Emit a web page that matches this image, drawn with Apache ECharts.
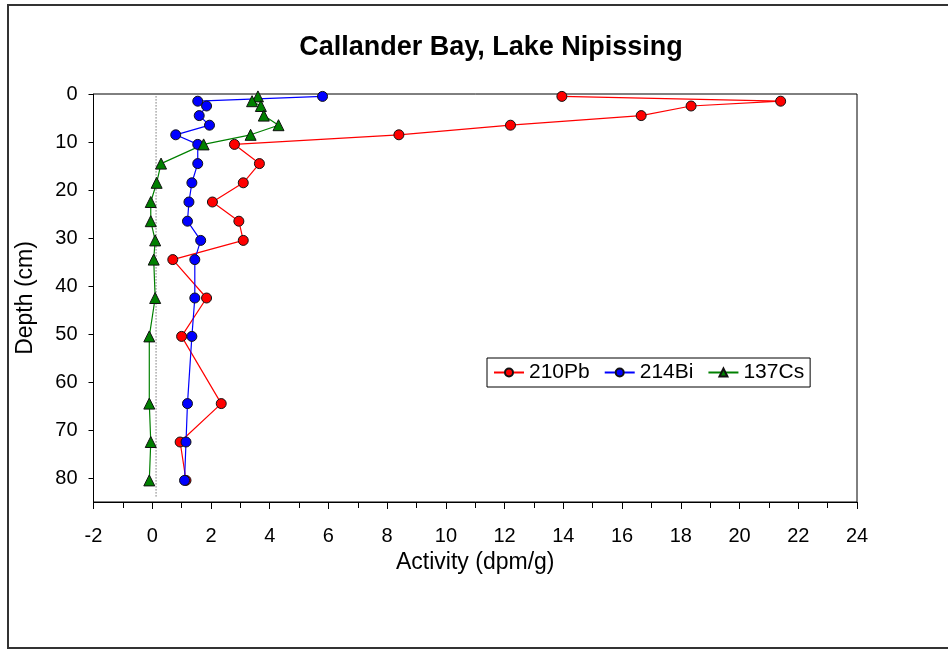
<!DOCTYPE html>
<html>
<head>
<meta charset="utf-8">
<script src="https://cdn.jsdelivr.net/npm/echarts@6/dist/echarts.min.js"></script>
<style>
  html, body { margin: 0; padding: 0; background: #fff; }
  #main { width: 948px; height: 650px; }
</style>
</head>
<body>
<div id="main"></div>
<script>
// depth of each sample (cm)
var depths = [0.5, 1.5, 2.5, 4.5, 6.5, 8.5, 10.5, 14.5, 18.5, 22.5, 26.5, 30.5, 34.5, 42.5, 50.5, 64.5, 72.5, 80.5];
// activities (dpm/g)
var pb210 = [13.95, 21.4, 18.35, 16.65, 12.2, 8.4, 2.8, 3.65, 3.1, 2.05, 2.95, 3.1, 0.7, 1.85, 1.0, 2.35, 0.95, 1.15];
var bi214 = [5.8, 1.55, 1.85, 1.6, 1.95, 0.8, 1.55, 1.55, 1.35, 1.25, 1.2, 1.65, 1.45, 1.45, 1.35, 1.2, 1.15, 1.1];
var cs137 = [3.6, 3.4, 3.7, 3.8, 4.3, 3.35, 1.75, 0.3, 0.15, -0.05, -0.05, 0.1, 0.05, 0.1, -0.1, -0.1, -0.05, -0.1];
// dotted reference line
var refX = [0.13, 0.13];
var refDepth = [0.5, 84];
var xTicks = [-2, 0, 2, 4, 6, 8, 10, 12, 14, 16, 18, 20, 22, 24];
var yTicks = [0, 10, 20, 30, 40, 50, 60, 70, 80];

function pairs(vals, ds) {
  var out = [];
  for (var i = 0; i < vals.length; i++) out.push([vals[i], ds[i]]);
  return out;
}

var font = 'Arial, "Liberation Sans", sans-serif';
var chart = echarts.init(document.getElementById('main'));

function seriesOf(name, vals, color, symbol, size) {
  return {
    name: name,
    type: 'line',
    data: pairs(vals, depths),
    symbol: symbol,
    symbolSize: size,
    showSymbol: true,
    lineStyle: { color: color, width: 1.2 },
    itemStyle: { color: color, borderColor: '#111', borderWidth: 1 },
    animation: false,
    z: 3
  };
}

chart.setOption({
  animation: false,
  title: {
    text: 'Callander Bay, Lake Nipissing',
    left: 486, top: 29, textAlign: 'center',
    textStyle: { fontFamily: font, fontSize: 27, fontWeight: 'bold', color: '#000' }
  },
  graphic: [{
    type: 'rect',
    shape: { x: 8, y: 5, width: 960, height: 643 },
    style: { fill: 'none', stroke: '#333', lineWidth: 2 },
    silent: true
  }],
  legend: {
    left: 487, top: 358,
    padding: [4, 6, 4, 6],
    itemGap: 14,
    itemWidth: 30,
    itemHeight: 10,
    borderColor: '#000',
    borderWidth: 1,
    textStyle: { fontFamily: font, fontSize: 21, color: '#000' },
    data: ['210Pb', '214Bi', '137Cs']
  },
  grid: { left: 93.5, right: 91, top: 94, bottom: 148, show: true, borderColor: '#000', borderWidth: 1 },
  xAxis: {
    type: 'value',
    min: xTicks[0], max: xTicks[xTicks.length - 1], interval: 2,
    name: 'Activity (dpm/g)', nameLocation: 'middle', nameGap: 47,
    nameTextStyle: { fontFamily: font, fontSize: 23, color: '#000' },
    axisLine: { onZero: false, lineStyle: { color: '#000', width: 1 } },
    axisTick: { show: true, inside: false, length: 7, lineStyle: { color: '#000' } },
    minorTick: { show: true, splitNumber: 2, length: 6, lineStyle: { color: '#000' } },
    axisLabel: { margin: 24, fontFamily: font, fontSize: 20, color: '#000' },
    splitLine: { show: false }
  },
  yAxis: {
    type: 'value',
    inverse: true,
    min: 0, max: 85, interval: 10,
    name: 'Depth (cm)', nameLocation: 'middle', nameGap: 56, nameRotate: 90,
    nameTextStyle: { fontFamily: font, fontSize: 23, color: '#000' },
    axisLine: { onZero: false, lineStyle: { color: '#000', width: 1 } },
    axisTick: { show: true, inside: false, length: 5, lineStyle: { color: '#000' }, customValues: yTicks },
    axisLabel: { margin: 16, fontFamily: font, fontSize: 20, color: '#000', customValues: yTicks },
    splitLine: { show: false }
  },
  series: [
    {
      name: 'ref',
      type: 'line',
      data: pairs(refX, refDepth),
      symbol: 'none',
      lineStyle: { color: '#333', width: 1, type: [1, 2] },
      silent: true,
      z: 1
    },
    seriesOf('210Pb', pb210, '#ff0000', 'circle', 10),
    seriesOf('214Bi', bi214, '#0000ff', 'circle', 10),
    seriesOf('137Cs', cs137, '#008000', 'triangle', 11)
  ]
});
</script>
</body>
</html>
